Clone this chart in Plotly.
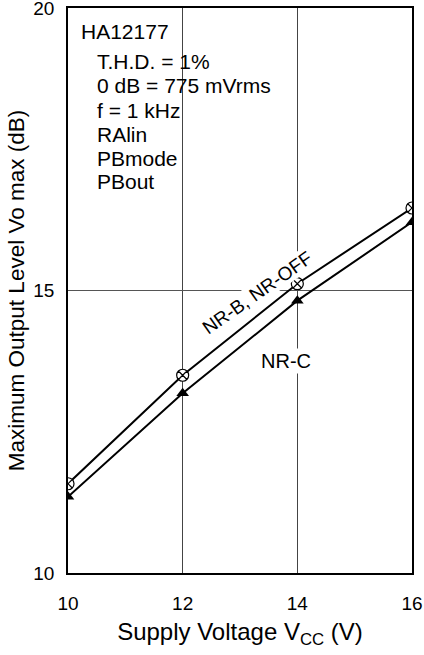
import plotly.graph_objects as go

vcc = [10, 12, 14, 16]
nr_b_off = [11.58, 13.50, 15.12, 16.46]
nr_c = [11.35, 13.18, 14.82, 16.21]
x_ticks = [10, 12, 14, 16]
y_ticks = [10, 15, 20]
cond_lines = ["T.H.D. = 1%", "0 dB = 775 mVrms", "f = 1 kHz", "RAlin", "PBmode", "PBout"]
cond_y = [19.05, 18.62, 18.18, 17.76, 17.33, 16.93]

FONT = "Liberation Sans, Arial, sans-serif"
TXT = dict(family=FONT, size=21, color="black")

fig = go.Figure()
# white patch behind the condition text block (breaks the grid line like the reference)
fig.add_shape(type="rect", xref="x", yref="y", x0=10.35, x1=13.7, y0=16.64, y1=19.33,
              fillcolor="white", line=dict(width=0), layer="below")

fig.add_trace(go.Scatter(
    x=vcc, y=nr_c, mode="lines+markers",
    line=dict(color="black", width=2),
    marker=dict(symbol="triangle-up", size=11, color="black"),
    showlegend=False))
fig.add_trace(go.Scatter(
    x=vcc, y=nr_b_off, mode="lines+markers",
    line=dict(color="black", width=2),
    marker=dict(symbol="circle-x", size=12, color="white",
                line=dict(color="black", width=1.2)),
    showlegend=False))

fig.add_annotation(x=10.19, y=19.59, xref="x", yref="y", text="HA12177",
                   showarrow=False, xanchor="left", yanchor="middle", font=TXT)
for t, yy in zip(cond_lines, cond_y):
    fig.add_annotation(x=10.47, y=yy, xref="x", yref="y", text=t,
                       showarrow=False, xanchor="left", yanchor="middle", font=TXT)
fig.add_annotation(x=13.31, y=14.96, xref="x", yref="y", text="NR-B, NR-OFF",
                   showarrow=False, textangle=-35, bgcolor="white", borderpad=0,
                   font=dict(family=FONT, size=19, color="black"))
fig.add_annotation(x=13.80, y=13.76, xref="x", yref="y", text="NR-C",
                   showarrow=False, bgcolor="white", borderpad=1,
                   font=dict(family=FONT, size=20, color="black"))

fig.update_xaxes(range=[10, 16], tickvals=x_ticks, ticks="", automargin=False,
                 showline=True, linecolor="black", linewidth=1.5, mirror=True,
                 showgrid=True, gridcolor="#444", gridwidth=1, zeroline=False,
                 ticklabeloverflow="allow", ticklabelstandoff=12,
                 tickfont=dict(family=FONT, size=19, color="black"),
                 title=dict(text="Supply Voltage V<sub>CC</sub> (V)", standoff=11,
                            font=dict(family=FONT, size=24, color="black")))
fig.update_yaxes(range=[10, 20], tickvals=y_ticks, ticks="", automargin=False,
                 showline=True, linecolor="black", linewidth=1.5, mirror=True,
                 showgrid=True, gridcolor="#555", gridwidth=1, zeroline=False,
                 ticklabeloverflow="allow", ticklabelstandoff=8,
                 tickfont=dict(family=FONT, size=19, color="black"),
                 title=dict(text="Maximum Output Level Vo max (dB)", standoff=2,
                            font=dict(family=FONT, size=22.5, color="black")))

fig.update_layout(width=424, height=655,
                  margin=dict(l=68, r=12, t=8, b=82),
                  paper_bgcolor="white", plot_bgcolor="white",
                  font=dict(family=FONT, color="black"))

fig.write_html("out.html", config={"displayModeBar": False})

# remove the default page margin so the 424x655 figure fills the window exactly
with open("out.html", "r", encoding="utf-8") as f:
    html = f.read()
html = html.replace("<body>", '<body style="margin:0;padding:0;overflow:hidden">', 1)
with open("out.html", "w", encoding="utf-8") as f:
    f.write(html)
